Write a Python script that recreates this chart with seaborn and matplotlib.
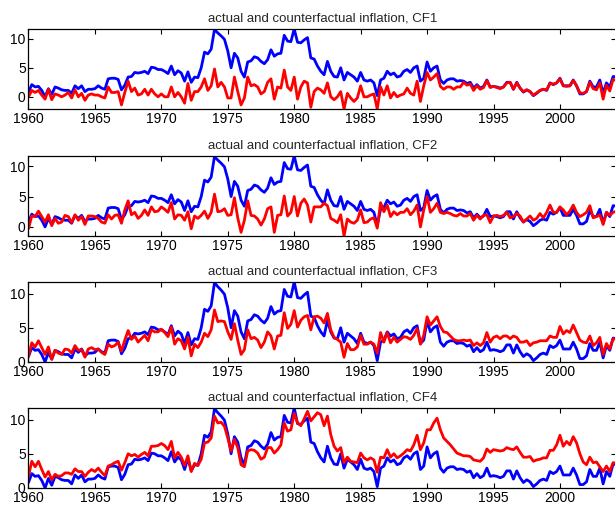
import numpy as np
import pandas as pd
import matplotlib
matplotlib.use("Agg")
import matplotlib.pyplot as plt
import seaborn as sns

# quarterly data, 1960Q1 .. 2004Q2
start_year = 1960
n_quarters = 178

actual = [
    0.8, 2.1, 1.7, 1.8, 1.1, 0.0, 1.4, 0.4, 1.7, 1.5,
    1.2, 1.1, 1.1, 0.6, 1.9, 1.4, 1.9, 0.9, 1.3, 1.3,
    1.4, 1.9, 1.5, 1.3, 3.1, 3.2, 3.2, 3.0, 1.2, 2.0,
    3.4, 3.5, 4.2, 4.1, 4.2, 4.4, 4.0, 5.1, 5.0, 4.7,
    4.7, 4.4, 4.0, 5.3, 3.8, 4.5, 4.1, 2.7, 4.3, 2.5,
    3.4, 3.3, 5.0, 7.7, 7.4, 8.2, 11.6, 11.0, 10.5, 9.9,
    7.9, 5.0, 7.5, 6.7, 4.4, 3.4, 6.0, 6.2, 6.9, 6.7,
    6.1, 5.7, 6.4, 8.1, 7.0, 7.4, 7.5, 10.6, 9.6, 9.5,
    11.7, 9.4, 9.3, 9.8, 10.2, 6.7, 6.5, 5.3, 4.4, 3.8,
    6.1, 4.4, 3.5, 3.4, 5.0, 2.9, 4.2, 3.8, 3.4, 2.7,
    4.2, 2.9, 2.7, 2.9, 2.4, 0.2, 2.9, 3.2, 4.4, 3.8,
    4.1, 3.4, 3.6, 4.4, 4.7, 4.2, 5.0, 5.3, 2.7, 3.2,
    6.0, 4.4, 5.0, 5.3, 2.9, 2.3, 2.9, 3.1, 3.1, 2.7,
    2.8, 2.7, 2.3, 2.5, 1.5, 2.1, 1.5, 1.8, 2.9, 1.7,
    1.8, 1.7, 1.5, 1.7, 2.5, 2.5, 1.3, 2.5, 1.5, 0.8,
    1.2, 0.9, 0.2, 0.6, 1.1, 1.3, 1.1, 2.4, 2.1, 2.4,
    3.2, 1.9, 1.9, 1.9, 2.9, 1.9, 0.5, 0.5, 0.9, 2.7,
    1.7, 1.7, 2.9, 0.6, 2.4, 1.7, 3.5, 3.4,
]

cf1 = [
    0.0, 1.1, 0.75, 1.1, 0.3, -0.4, 1.3, -0.5, 0.5, 0.3,
    0.0, 0.3, 0.75, -0.2, 1.2, 0.0, 0.6, -0.6, 0.3, 0.5,
    0.3, 0.3, 0.0, -0.2, 1.7, 0.75, 0.75, 0.9, -1.4, 0.75,
    2.7, 0.9, 1.5, 0.3, 0.5, 1.3, 0.3, 1.3, 0.5, 0.0,
    0.5, 0.0, 0.0, 1.7, 0.0, 0.75, 0.0, -1.1, 2.3, -0.6,
    0.9, 0.9, 1.7, 3.1, 1.1, 1.9, 4.8, 1.7, 2.5, 1.7,
    -0.2, -0.2, 3.4, 0.9, -1.4, -0.2, 3.4, 1.9, 2.1, 1.7,
    0.5, 0.9, 2.5, 3.1, -0.4, 1.7, 1.5, 4.6, 1.7, 1.1,
    3.4, -0.4, 1.7, 2.7, 2.4, -1.8, 0.9, 1.5, 1.2, 0.6,
    2.4, 0.0, -0.5, 0.0, 0.9, -2.1, 0.6, -0.2, -0.8, -0.2,
    1.9, 0.0, 0.0, 0.3, 0.5, -2.1, 1.7, 0.3, 1.9, -0.2,
    0.75, 0.0, 0.3, 0.5, 1.5, 0.6, 0.3, 2.7, -0.8, 1.9,
    4.2, 2.9, 3.4, 4.0, 1.8, 1.3, 1.7, 1.7, 1.3, 1.7,
    1.7, 2.5, 2.0, 2.2, 1.1, 1.9, 1.3, 1.6, 2.8, 1.6,
    1.8, 1.6, 1.4, 1.7, 2.4, 2.5, 1.3, 2.4, 1.5, 0.9,
    1.2, 0.9, 0.3, 0.7, 1.1, 1.3, 1.2, 2.3, 2.2, 2.4,
    3.1, 1.9, 1.8, 1.9, 2.8, 1.9, 0.7, 0.6, 0.9, 2.5,
    1.4, 1.2, 2.4, -0.4, 2.0, 1.0, 3.0, 2.8,
]

cf2 = [
    -0.3, 1.8, 1.7, 2.6, 1.7, 0.8, 2.0, 0.2, 1.4, 0.6,
    0.8, 1.9, 1.7, 0.7, 2.0, 1.1, 1.7, 0.4, 1.8, 1.8,
    1.7, 1.4, 0.8, 0.6, 2.0, 1.3, 1.9, 2.0, 0.6, 2.8,
    4.3, 2.0, 2.4, 1.4, 1.9, 2.8, 1.9, 3.3, 2.5, 2.6,
    3.3, 2.9, 2.4, 4.0, 1.3, 2.0, 1.9, 1.1, 2.5, -0.3,
    1.8, 1.4, 1.9, 2.6, 1.4, 2.4, 5.4, 2.5, 2.6, 3.0,
    1.9, 2.0, 4.8, 1.5, -0.9, 1.1, 4.3, 1.9, 1.8, 1.3,
    0.3, 1.3, 3.0, 3.3, -0.9, 1.9, 2.0, 5.1, 1.8, 2.4,
    5.0, 1.8, 3.9, 4.6, 3.6, 0.8, 3.3, 3.3, 3.3, 3.9,
    3.5, 1.4, 1.1, 0.7, 2.0, -1.5, 1.3, 0.8, 0.6, 1.1,
    2.8, 0.7, 0.8, 1.3, 1.5, -0.2, 4.0, 2.5, 3.6, 1.7,
    2.5, 2.0, 2.4, 2.4, 3.0, 2.0, 2.6, 3.6, 0.0, 2.8,
    5.0, 2.4, 3.0, 3.9, 2.4, 2.2, 2.4, 2.2, 1.9, 1.8,
    2.2, 1.8, 1.8, 2.2, 1.1, 1.9, 1.3, 1.9, 2.0, 0.7,
    1.8, 1.9, 1.7, 1.9, 2.4, 1.5, 1.7, 2.2, 1.8, 0.8,
    1.3, 1.8, 1.1, 1.4, 2.2, 1.5, 2.4, 3.6, 2.4, 2.4,
    3.3, 2.8, 2.0, 2.6, 3.6, 2.4, 1.7, 2.0, 2.4, 3.5,
    1.5, 1.7, 2.0, 0.4, 2.4, 1.9, 2.4, 2.6,
]

cf3 = [
    0.8, 2.8, 2.2, 3.1, 2.1, 1.1, 2.2, 0.4, 1.7, 1.3,
    1.1, 1.9, 1.8, 1.3, 2.4, 1.7, 1.8, 0.7, 1.9, 2.1,
    1.8, 1.9, 1.4, 1.1, 2.6, 2.2, 2.4, 2.9, 1.6, 3.2,
    4.6, 3.3, 3.8, 2.9, 3.4, 3.9, 3.1, 4.7, 4.4, 4.4,
    4.8, 4.3, 3.7, 5.1, 2.6, 3.4, 3.1, 1.9, 3.6, 0.9,
    2.6, 2.1, 2.9, 4.2, 3.7, 4.7, 7.6, 5.9, 6.0, 5.9,
    4.4, 3.3, 5.6, 3.2, 1.1, 1.8, 4.7, 3.4, 3.6, 3.2,
    2.1, 2.9, 4.4, 3.8, 1.9, 3.8, 3.9, 7.2, 4.9, 5.5,
    7.5, 5.1, 6.1, 6.6, 6.8, 4.7, 6.6, 6.7, 6.4, 5.7,
    7.1, 4.7, 3.6, 3.3, 2.9, 0.7, 2.7, 1.8, 1.8, 2.2,
    3.9, 2.6, 2.6, 2.9, 2.6, 1.3, 4.3, 2.9, 4.3, 2.8,
    3.6, 2.9, 3.3, 3.7, 3.6, 3.3, 3.9, 4.9, 2.6, 3.9,
    6.6, 5.4, 6.0, 6.6, 5.2, 4.4, 4.3, 3.8, 3.3, 3.1,
    3.1, 3.2, 3.1, 3.2, 2.4, 2.8, 2.4, 2.8, 4.3, 2.9,
    3.6, 3.8, 3.4, 3.8, 3.8, 3.4, 3.8, 3.6, 2.9, 2.9,
    3.1, 2.4, 2.8, 2.9, 3.1, 3.1, 3.1, 3.8, 3.6, 3.6,
    5.2, 4.1, 4.6, 4.3, 5.4, 4.3, 3.2, 2.9, 2.8, 3.8,
    2.4, 2.8, 3.6, 1.1, 2.7, 1.9, 3.4, 3.3,
]

cf4 = [
    1.7, 3.9, 3.1, 3.9, 2.7, 1.6, 2.4, 1.2, 2.0, 1.7,
    1.8, 2.2, 2.2, 2.0, 2.8, 2.4, 2.4, 1.7, 2.3, 2.7,
    2.4, 2.9, 2.3, 1.8, 3.2, 3.4, 3.7, 3.9, 2.6, 3.7,
    5.0, 4.7, 4.9, 4.5, 4.9, 5.2, 4.7, 6.1, 6.1, 6.2,
    6.5, 6.2, 5.6, 6.8, 4.4, 5.2, 4.5, 3.3, 4.7, 2.4,
    3.6, 3.3, 4.2, 6.6, 6.7, 7.3, 10.5, 9.5, 9.6, 9.0,
    7.3, 5.4, 7.1, 5.9, 3.4, 3.1, 5.4, 5.6, 5.5, 5.1,
    4.2, 4.5, 5.9, 5.9, 5.1, 5.6, 6.3, 9.5, 8.3, 8.5,
    10.9, 9.5, 9.1, 10.1, 11.2, 9.8, 10.4, 11.0, 10.7, 9.1,
    10.5, 7.8, 6.1, 5.4, 5.9, 3.7, 4.5, 3.9, 3.8, 3.7,
    5.1, 4.4, 4.1, 4.4, 4.1, 2.3, 4.5, 4.4, 5.6, 4.5,
    5.0, 4.4, 4.7, 5.1, 5.6, 5.4, 6.3, 7.7, 5.6, 6.6,
    8.5, 8.5, 9.5, 10.2, 8.5, 7.3, 6.8, 6.3, 5.7, 5.1,
    4.9, 4.7, 4.7, 4.6, 4.1, 4.0, 3.9, 4.4, 5.7, 5.2,
    5.6, 5.5, 5.4, 5.5, 5.9, 5.7, 5.6, 6.0, 5.2, 4.5,
    4.5, 4.6, 3.9, 4.1, 4.2, 4.4, 4.4, 5.5, 5.5, 6.3,
    7.7, 6.1, 6.8, 6.3, 7.5, 6.6, 5.0, 3.8, 3.4, 4.5,
    3.7, 3.8, 3.1, 2.4, 3.2, 2.4, 3.7, 3.6,
]

scenarios = ["CF1", "CF2", "CF3", "CF4"]
counterfactuals = [cf1, cf2, cf3, cf4]
x_ticks = [1960, 1965, 1970, 1975, 1980, 1985, 1990, 1995, 2000]
y_ticks = [0, 5, 10]

quarters = start_year + np.arange(n_quarters) / 4.0

sns.set_style("ticks")
plt.rcParams["font.family"] = ["Liberation Sans", "DejaVu Sans"]

fig = plt.figure(figsize=(6.15, 5.07), dpi=100)

# axes boxes in figure fractions (left, bottom, width, height)
bottoms = [0.785, 0.5345, 0.286, 0.0375]
left, width, height = 0.0463, 0.956, 0.158

for name, cf, bottom in zip(scenarios, counterfactuals, bottoms):
    ax = fig.add_axes([left, bottom, width, height])
    df = pd.DataFrame({"Date": quarters, "Actual": actual, "Counterfactual": cf})

    # actual first, counterfactual drawn on top
    sns.lineplot(data=df, x="Date", y="Actual", ax=ax, color="#0000ff", linewidth=2.0)
    sns.lineplot(data=df, x="Date", y="Counterfactual", ax=ax, color="#ff0000", linewidth=2.0)

    # tight limits like the original
    lo = min(df["Actual"].min(), df["Counterfactual"].min())
    hi = max(df["Actual"].max(), df["Counterfactual"].max())
    ax.set_xlim(quarters[0], quarters[-1])
    ax.set_ylim(lo, hi)

    ax.set_xticks(x_ticks)
    ax.set_yticks(y_ticks)
    ax.set_xlabel("")
    ax.set_ylabel("")
    ax.tick_params(direction="in", top=True, right=True, length=3.5, width=0.8,
                   labelsize=10, pad=2, colors="black")
    for spine in ax.spines.values():
        spine.set_linewidth(0.9)
        spine.set_color("black")
    ax.set_title(f"actual and counterfactual inflation, {name}", fontsize=9.5, pad=5)

fig.savefig("out.png", dpi=100)
